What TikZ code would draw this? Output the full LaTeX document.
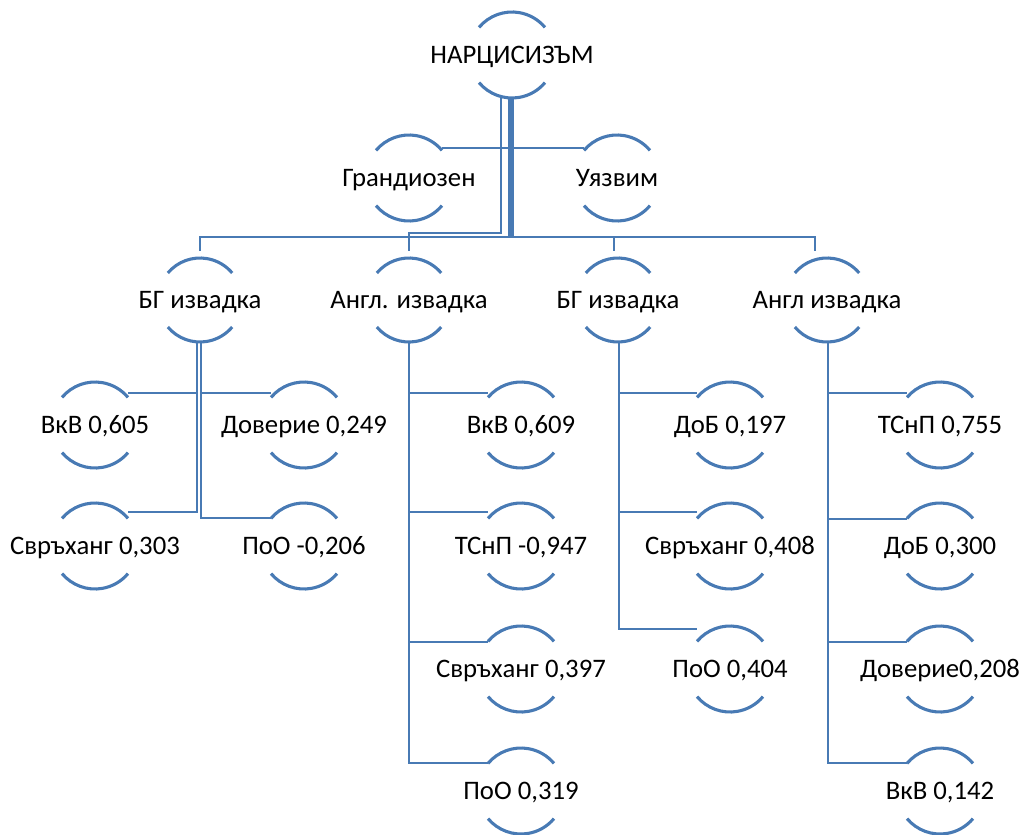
\documentclass[tikz,border=0pt]{standalone}
\usepackage{fontspec}
\setmainfont{Carlito}
\usetikzlibrary{calc}
\definecolor{smartblue}{RGB}{72,122,180}
\tikzset{
lbl/.style={font=\fontsize{19}{23}\selectfont,inner sep=0pt,text height=12.3pt,text depth=0pt},
arcline/.style={draw=smartblue,line width=2.2pt},
link/.style={draw=smartblue,line width=1.8pt},
}

\begin{document}
\begin{tikzpicture}[x=0.025cm,y=0.025cm]
\useasboundingbox(0,0)rectangle(1023,-834);

% top levels
\node[lbl](root)at(512,-55){НАРЦИСИЗЪМ};
\node[lbl](grand)at(409,-178){Грандиозен};
\node[lbl](uyaz)at(617,-178){Уязвим};
\node[lbl](b1)at(200,-300){БГ извадка};
\node[lbl](a1)at(409,-300){Англ. извадка};
\node[lbl](b2)at(618,-300){БГ извадка};
\node[lbl](a2)at(827,-300){Англ извадка};

% BG sample 1
\node[lbl](vkv1)at(95,-425){ВкВ 0,605};
\node[lbl](dov1)at(304,-425){Доверие 0,249};
\node[lbl](svr1)at(95,-546){Свръханг 0,303};
\node[lbl](poo1)at(304,-546){ПоО -0,206};
% Engl. sample 1
\node[lbl](vkv2)at(521,-425){ВкВ 0,609};
\node[lbl](tsnp2)at(521,-546){ТСнП -0,947};
\node[lbl](svr2)at(521,-669){Свръханг 0,397};
\node[lbl](poo2)at(521,-791){ПоО 0,319};
% BG sample 2
\node[lbl](dob3)at(730,-425){ДоБ 0,197};
\node[lbl](svr3)at(730,-546){Свръханг 0,408};
\node[lbl](poo3)at(730,-669){ПоО 0,404};
% Engl sample 2
\node[lbl](tsnp4)at(940,-425){ТСнП 0,755};
\node[lbl](dob4)at(940,-546){ДоБ 0,300};
\node[lbl](dov4)at(940,-669){Доверие0,208};
\node[lbl](vkv4)at(940,-791){ВкВ 0,142};

% arcs
\draw[arcline]($(root)+(140:43)$)arc(140:40:43)($(root)+(220:43)$)arc(220:320:43);
\draw[arcline]($(grand)+(140:43)$)arc(140:40:43)($(grand)+(220:43)$)arc(220:320:43);
\draw[arcline]($(uyaz)+(140:43)$)arc(140:40:43)($(uyaz)+(220:43)$)arc(220:320:43);
\draw[arcline]($(b1)+(140:42)$)arc(140:40:42)($(b1)+(220:42)$)arc(220:320:42);
\draw[arcline]($(a1)+(140:42)$)arc(140:40:42)($(a1)+(220:42)$)arc(220:320:42);
\draw[arcline]($(b2)+(140:42)$)arc(140:40:42)($(b2)+(220:42)$)arc(220:320:42);
\draw[arcline]($(a2)+(140:42)$)arc(140:40:42)($(a2)+(220:42)$)arc(220:320:42);
\draw[arcline]($(vkv1)+(140:43)$)arc(140:40:43)($(vkv1)+(220:43)$)arc(220:320:43);
\draw[arcline]($(dov1)+(140:43)$)arc(140:40:43)($(dov1)+(220:43)$)arc(220:320:43);
\draw[arcline]($(svr1)+(140:43)$)arc(140:40:43)($(svr1)+(220:43)$)arc(220:320:43);
\draw[arcline]($(poo1)+(140:43)$)arc(140:40:43)($(poo1)+(220:43)$)arc(220:320:43);
\draw[arcline]($(vkv2)+(140:43)$)arc(140:40:43)($(vkv2)+(220:43)$)arc(220:320:43);
\draw[arcline]($(tsnp2)+(140:43)$)arc(140:40:43)($(tsnp2)+(220:43)$)arc(220:320:43);
\draw[arcline]($(svr2)+(140:43)$)arc(140:40:43)($(svr2)+(220:43)$)arc(220:320:43);
\draw[arcline]($(poo2)+(140:43)$)arc(140:40:43)($(poo2)+(220:43)$)arc(220:320:43);
\draw[arcline]($(dob3)+(140:43)$)arc(140:40:43)($(dob3)+(220:43)$)arc(220:320:43);
\draw[arcline]($(svr3)+(140:43)$)arc(140:40:43)($(svr3)+(220:43)$)arc(220:320:43);
\draw[arcline]($(poo3)+(140:43)$)arc(140:40:43)($(poo3)+(220:43)$)arc(220:320:43);
\draw[arcline]($(tsnp4)+(140:43)$)arc(140:40:43)($(tsnp4)+(220:43)$)arc(220:320:43);
\draw[arcline]($(dob4)+(140:43)$)arc(140:40:43)($(dob4)+(220:43)$)arc(220:320:43);
\draw[arcline]($(dov4)+(140:43)$)arc(140:40:43)($(dov4)+(220:43)$)arc(220:320:43);
\draw[arcline]($(vkv4)+(140:43)$)arc(140:40:43)($(vkv4)+(220:43)$)arc(220:320:43);

% links from the root
\draw[link]($(root)+(-2,-43)$)|-($(grand)+(33,30)$);
\draw[link]($(root)+(0,-43)$)|-($(uyaz)+(-33,30)$);
\draw[link]($(root)+(-3,-43)$)|-($(b1)+(0,63)$)--($(b1)+(0,49)$);
\draw[link]($(root)+(-11,-43)$)|-($(a1)+(0,67)$)--($(a1)+(0,49)$);
\draw[link]($(root)+(1,-43)$)|-($(b2)+(-4,63)$)--($(b2)+(-4,49)$);
\draw[link]($(root)+(-1,-43)$)|-($(a2)+(-12,63)$)--($(a2)+(-12,49)$);

% links to the scales
\draw[link]($(b1)+(-3,-42)$)|-($(vkv1)+(33,32)$);
\draw[link]($(b1)+(1,-42)$)|-($(dov1)+(-33,32)$);
\draw[link]($(b1)+(-3,-42)$)|-($(svr1)+(33,34)$);
\draw[link]($(b1)+(1,-42)$)|-($(poo1)+(-33,28)$);

\draw[link]($(a1)+(0,-42)$)|-($(vkv2)+(-33,32)$);
\draw[link]($(a1)+(0,-42)$)|-($(tsnp2)+(-33,34)$);
\draw[link]($(a1)+(0,-42)$)|-($(svr2)+(-33,27)$);
\draw[link]($(a1)+(0,-42)$)|-($(poo2)+(-33,28)$);

\draw[link]($(b2)+(1,-42)$)|-($(dob3)+(-33,32)$);
\draw[link]($(b2)+(1,-42)$)|-($(svr3)+(-33,34)$);
\draw[link]($(b2)+(1,-42)$)|-($(poo3)+(-33,40)$);

\draw[link]($(a2)+(1,-42)$)|-($(tsnp4)+(-33,32)$);
\draw[link]($(a2)+(1,-42)$)|-($(dob4)+(-33,27)$);
\draw[link]($(a2)+(1,-42)$)|-($(dov4)+(-33,27)$);
\draw[link]($(a2)+(1,-42)$)|-($(vkv4)+(-33,28)$);

\end{tikzpicture}
\end{document}
